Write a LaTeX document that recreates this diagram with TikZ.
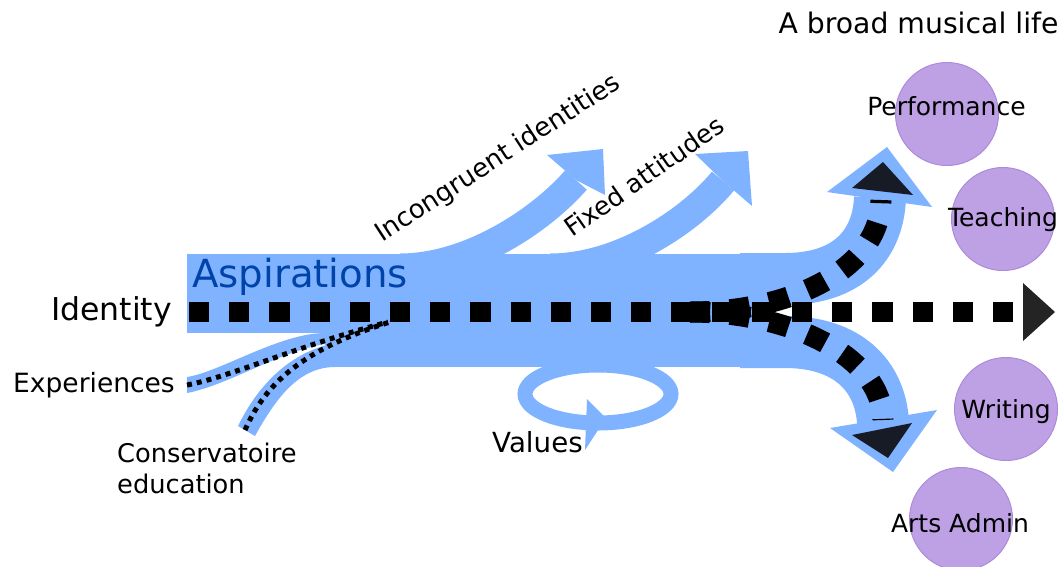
\documentclass[tikz,border=0pt]{standalone}
\usepackage{fontspec}
\setmainfont{DejaVu Sans}
\definecolor{flow}{RGB}{128,179,255}
\definecolor{aspir}{RGB}{0,68,170}
\definecolor{lav}{RGB}{190,160,228}
\definecolor{lavline}{RGB}{172,140,218}
\definecolor{headdark}{RGB}{22,27,38}
\definecolor{enddark}{RGB}{36,36,36}
\tikzset{
  flowfill/.style={fill=flow},
  bigdots/.style={draw=black,line width=20pt,dash pattern=on 20.1pt off 20.1pt},
  branchdots/.style={draw=black,line width=21pt,dash pattern=on 20pt off 20pt},
  smalldots/.style={draw=black,line width=5pt,dash pattern=on 5pt off 5pt},
  shaft/.style={draw=flow,line width=29pt},
  branch/.style={draw=flow,line width=52pt},
  lab/.style={inner sep=0pt,font=\fontsize{25}{30}\selectfont},
  role/.style={circle,fill=lav,draw=lavline,line width=1pt,minimum size=103pt,inner sep=0pt},
}
\begin{document}
\begin{tikzpicture}[x=1pt,y=-1pt]
\useasboundingbox (0,0) rectangle (1063,566);

% role circles
\node[role] (cperf) at (947,114) {};
\node[role] (cteach) at (1003,219) {};
\node[role] (cwrite) at (1006,409) {};
\node[role] (cadmin) at (961,519) {};

% main blue band
\fill[flow] (187,254) rectangle (775,333);
\fill[flow] (325,333) rectangle (775,367);
% experiences stream
\fill[flow] (187,377) .. controls (220,372) and (280,333) .. (325,333)
  -- (335,333) -- (335,343) .. controls (290,345) and (230,385) .. (187,393) -- cycle;
% conservatoire stream
\fill[flow] (238,426) .. controls (258,385) and (290,352) .. (335,343)
  -- (335,367) .. controls (298,367) and (275,400) .. (255,436) -- cycle;

% upward shafts
\draw[shaft] (400,268) .. controls (470,268) and (541,220) .. (576,180);
\fill[flow] (547,155) -- (603,149) -- (605,195) -- (576,180) -- cycle;
\draw[shaft] (550,268) .. controls (620,268) and (690,221) .. (723,181);
\fill[flow] (695,154) -- (748,151) -- (752,206) -- (723,181) -- cycle;

% big branches
\draw[branch] (740,279) -- (785,279) .. controls (848,279) and (878,245) .. (880,198);
\fill[flow] (827,192) -- (887,147) -- (932,207) -- cycle;
\draw[branch] (740,342) -- (785,342) .. controls (848,342) and (880,376) .. (883,422);
\fill[flow] (830,428) -- (893,472) -- (937,410) -- cycle;

% values loop
\draw[flow,line width=15pt] (598,394) ellipse [x radius=73, y radius=29];
\fill[flow] (587,399) -- (606,418) -- (585,450) -- cycle;

% dotted lines
\draw[smalldots] (187,385) .. controls (230,377) and (300,345) .. (388,322);
\draw[smalldots] (245,430) .. controls (265,385) and (300,350) .. (390,322);
\draw[bigdots] (189,312) -- (1016,312);
\draw[branchdots] (690,312) .. controls (790,312) and (880,270) .. (881,200);
\draw[branchdots] (690,312) .. controls (790,312) and (882,356) .. (883,420);

% arrow tips
\fill[headdark] (852,188) -- (883,162) -- (913,195) -- cycle;
\fill[headdark] (852,435) -- (888,458) -- (912,423) -- cycle;
\fill[enddark] (1023,283) -- (1055,312) -- (1023,341) -- cycle;

% texts
\node[lab,anchor=base,font=\fontsize{28.3}{33}\selectfont] (title) at (918.5,33) {A broad musical life};
\node[lab,anchor=base] (tperf) at (946.5,115) {Performance};
\node[lab,anchor=base] (tteach) at (1003,226) {Teaching};
\node[lab,anchor=base] (twrite) at (1006,418) {Writing};
\node[lab,anchor=base] (tadmin) at (960,532) {Arts Admin};
\node[lab,anchor=base east,font=\fontsize{31.5}{36}\selectfont] (ident) at (172,320) {Identity};
\node[lab,anchor=base west,text=aspir,font=\fontsize{38.7}{44}\selectfont] (asp) at (192,287) {Aspirations};
\node[lab,anchor=base west,font=\fontsize{26.5}{31}\selectfont] (exp) at (13,392) {Experiences};
\node[lab,anchor=base west,font=\fontsize{25.7}{31}\selectfont] (cons1) at (117,462) {Conservatoire};
\node[lab,anchor=base west,font=\fontsize{25.7}{31}\selectfont] (cons2) at (117,493) {education};
\node[lab,anchor=base west,font=\fontsize{27.7}{32}\selectfont] (vals) at (492,452) {Values};
\node[lab,anchor=base west,rotate=33,font=\fontsize{26}{31}\selectfont] (incong) at (382,243) {Incongruent identities};
\node[lab,anchor=base west,rotate=35,font=\fontsize{25.5}{30}\selectfont] (fixed) at (572,238) {Fixed attitudes};
\end{tikzpicture}
\end{document}
